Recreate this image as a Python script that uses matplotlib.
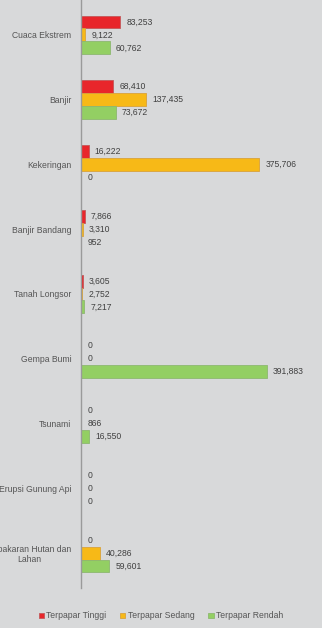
import matplotlib.pyplot as plt
import numpy as np

categories = [
    "Cuaca Ekstrem",
    "Banjir",
    "Kekeringan",
    "Banjir Bandang",
    "Tanah Longsor",
    "Gempa Bumi",
    "Tsunami",
    "Erupsi Gunung Api",
    "Kebakaran Hutan dan\nLahan",
]
tinggi = [83253, 68410, 16222, 7866, 3605, 0, 0, 0, 0]
sedang = [9122, 137435, 375706, 3310, 2752, 0, 866, 0, 40286]
rendah = [60762, 73672, 0, 952, 7217, 391883, 16550, 0, 59601]
series_names = ["Terpapar Tinggi", "Terpapar Sedang", "Terpapar Rendah"]
colors = ["#e8262b", "#f7b917", "#93cf63"]
edges = ["#c4585a", "#d9a23a", "#8db870"]

plt.rcParams["font.family"] = ["Liberation Sans", "DejaVu Sans"]
bg = "#d8d9da"
fig = plt.figure(figsize=(3.22, 6.28), dpi=100, facecolor=bg)
ax = fig.add_axes([81 / 322, 40 / 628, 237 / 322, 588 / 628], facecolor=bg)

y = np.arange(len(categories))
h = 0.2
for k, vals in enumerate([tinggi, sedang, rendah]):
    pos = y + (k - 1) * h
    ax.barh(pos, vals, height=h, color=colors[k], edgecolor=edges[k],
            linewidth=0.6, label=series_names[k])
    for p, v in zip(pos, vals):
        ax.text(v + 13000, p, f"{v:,}", va="center", ha="left",
                fontsize=6.2, color="#404040")

ax.set_xlim(0, 500000)
ax.set_ylim(len(categories) - 0.46, -0.54)
ax.set_yticks(y)
ax.set_yticklabels(categories, fontsize=6.2, color="#555555",
                   multialignment="center")
ax.tick_params(axis="y", length=0, pad=7)
ax.set_xticks([])
for s in ["top", "right", "bottom"]:
    ax.spines[s].set_visible(False)
ax.spines["left"].set_color("#9a9a9a")
ax.spines["left"].set_linewidth(1.0)

fig.legend(loc="center", bbox_to_anchor=(0.5, 12 / 628), ncol=3,
           frameon=False, fontsize=6.2, handlelength=0.6, handleheight=0.6,
           handletextpad=0.3, columnspacing=1.6, labelcolor="#555555")

fig.savefig("out.png", dpi=100, facecolor=bg)
